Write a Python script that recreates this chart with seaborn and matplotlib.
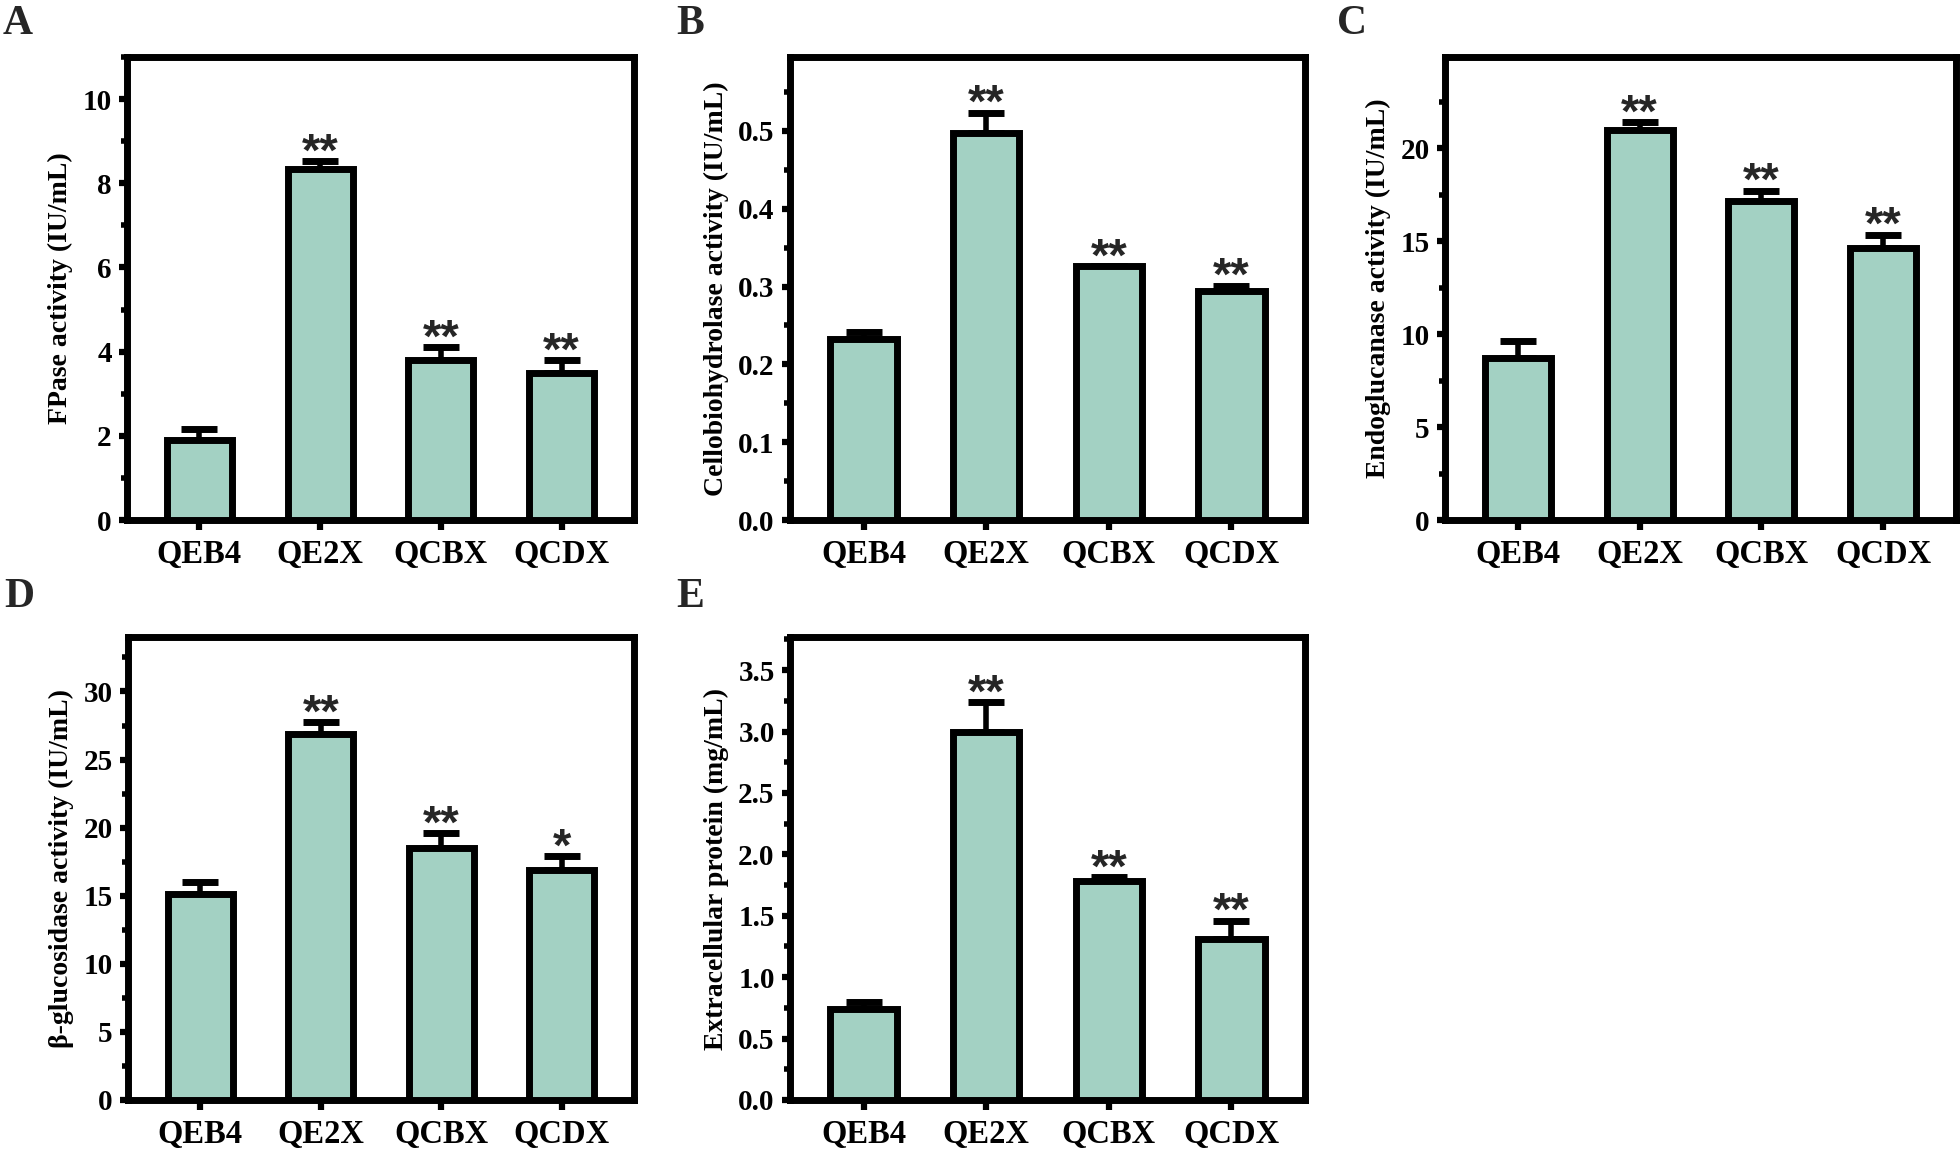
import numpy as np
import pandas as pd
import seaborn as sns
import matplotlib.pyplot as plt
from matplotlib.ticker import MultipleLocator

strains = ["QEB4", "QE2X", "QCBX", "QCDX"]

fpase = [1.9, 8.33, 3.8, 3.5]
fpase_err = [0.27, 0.19, 0.3, 0.3]
cbh = [0.233, 0.497, 0.326, 0.294]
cbh_err = [0.008, 0.026, 0.0, 0.007]
egl = [8.7, 20.95, 17.15, 14.65]
egl_err = [0.9, 0.45, 0.55, 0.7]
bgl = [15.1, 26.9, 18.5, 16.9]
bgl_err = [0.9, 0.85, 1.1, 1.0]
protein = [0.74, 3.0, 1.78, 1.31]
protein_err = [0.06, 0.24, 0.035, 0.15]

stars_a = ["", "**", "**", "**"]
stars_b = ["", "**", "**", "**"]
stars_c = ["", "**", "**", "**"]
stars_d = ["", "**", "**", "*"]
stars_e = ["", "**", "**", "**"]

sns.set_style("ticks")
plt.rcParams["font.family"] = ["Liberation Serif", "DejaVu Serif"]
plt.rcParams["font.weight"] = "bold"

bar_color = "#a3d1c3"

fig = plt.figure(figsize=(19.6, 11.5), dpi=100)

# axes boxes in pixels: left, right, top, bottom
panels = [
    ("A", (127, 634, 57, 520), (3, 24), fpase, fpase_err, stars_a, 11, 2, 1, "FPase activity (IU/mL)"),
    ("B", (790, 1305, 57, 520), (676, 24), cbh, cbh_err, stars_b, 0.595, 0.1, 0.05, "Cellobiohydrolase activity (IU/mL)"),
    ("C", (1445, 1956, 57, 520), (1337, 24), egl, egl_err, stars_c, 24.9, 5, 2.5, "Endoglucanase activity (IU/mL)"),
    ("D", (128, 634, 637, 1100), (4, 597), bgl, bgl_err, stars_d, 34, 5, 2.5, "β-glucosidase activity (IU/mL)"),
    ("E", (790, 1305, 637, 1100), (676, 597), protein, protein_err, stars_e, 3.77, 0.5, 0.25, "Extracellular protein (mg/mL)"),
]

for letter, box, lpos, vals, errs, stars, ytop, major, minor, ylabel in panels:
    l, r, t, b = box
    ax = fig.add_axes([l / 1960, 1 - b / 1150, (r - l) / 1960, (b - t) / 1150])
    df = pd.DataFrame({"strain": strains, "value": vals})
    sns.barplot(data=df, x="strain", y="value", color=bar_color, width=0.54,
                edgecolor="black", linewidth=5, saturation=1, errorbar=None,
                ax=ax, zorder=3)
    x = np.arange(len(strains))
    ax.errorbar(x, vals, yerr=[np.zeros(len(vals)), errs], fmt="none",
                ecolor="black", elinewidth=4, capsize=13, capthick=5, zorder=2)
    for xi, v, e, s in zip(x, vals, errs, stars):
        if s:
            ax.annotate(s, (xi, v + e), xytext=(0, -3), textcoords="offset points",
                        ha="center", va="baseline", fontsize=34, fontweight="bold",
                        family=["Liberation Sans", "DejaVu Sans"])
    ax.set_xlim(-0.6, 3.6)
    ax.set_ylim(0, ytop)
    ax.yaxis.set_major_locator(MultipleLocator(major))
    ax.yaxis.set_minor_locator(MultipleLocator(minor))
    for sp in ax.spines.values():
        sp.set_linewidth(5)
        sp.set_color("black")
        sp.set_visible(True)
    ax.tick_params(axis="y", which="major", direction="out", length=6, width=4.5,
                   labelsize=21, pad=5, color="black", labelcolor="black")
    ax.tick_params(axis="y", which="minor", direction="out", length=4.5, width=4, color="black")
    ax.tick_params(axis="x", which="major", direction="out", length=7, width=4.5,
                   labelsize=23.5, pad=7, color="black", labelcolor="black")
    for tl in ax.get_xticklabels() + ax.get_yticklabels():
        tl.set_fontweight("bold")
    ax.set_xlabel("")
    ax.set_ylabel(ylabel, fontsize=20, fontweight="bold", labelpad=7, color="black")
    fig.text(lpos[0] / 1960, 1 - lpos[1] / 1150, letter, fontsize=30,
             fontweight="bold", va="center", ha="left")

fig.savefig("out.png", dpi=100)
